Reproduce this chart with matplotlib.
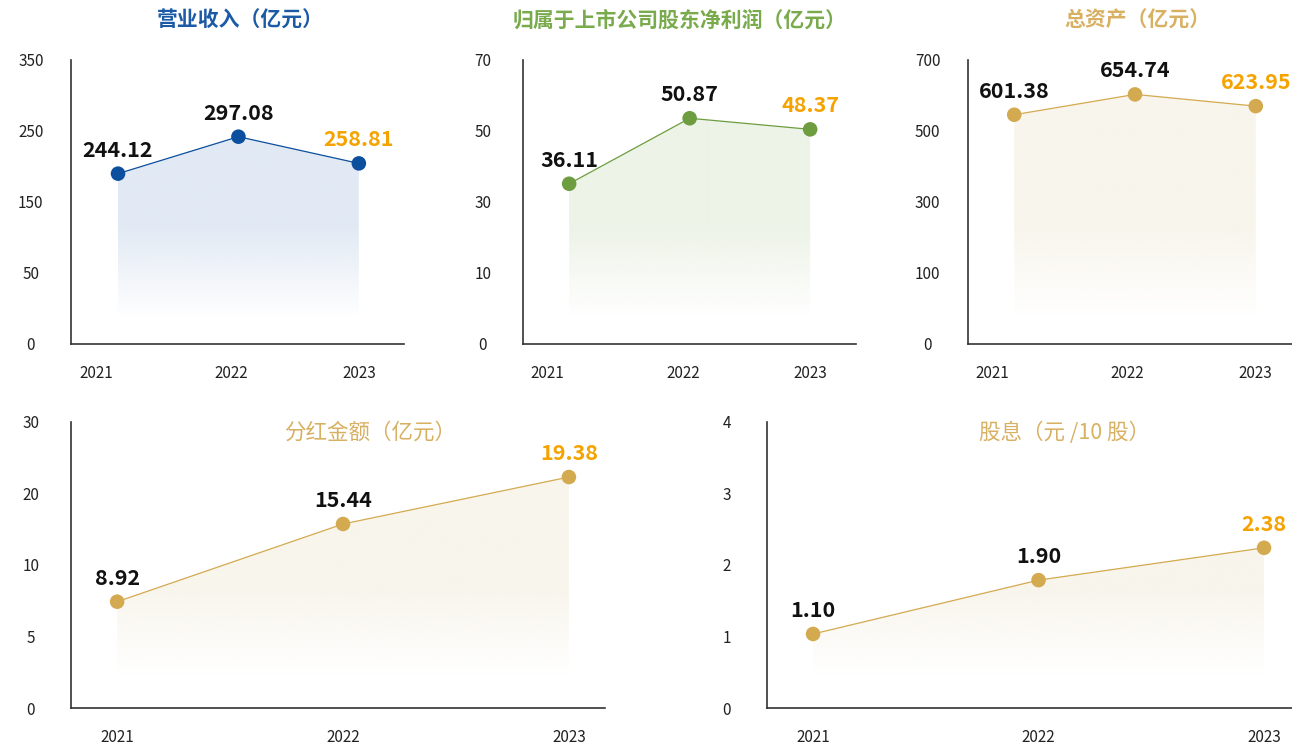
import numpy as np
import matplotlib
matplotlib.use('Agg')
import matplotlib.pyplot as plt
from matplotlib.colors import to_rgb
from matplotlib.patches import Polygon

plt.rcParams['font.family'] = ['Noto Sans CJK SC', 'DejaVu Sans']

years = ['2021', '2022', '2023']
revenue = [244.12, 297.08, 258.81]
net_profit = [36.11, 50.87, 48.37]
total_assets = [601.38, 654.74, 623.95]
dividend_total = [8.92, 15.44, 19.38]
dividend_per10 = [1.10, 1.90, 2.38]

revenue_ticks = ['0', '50', '150', '250', '350']
profit_ticks = ['0', '10', '30', '50', '70']
assets_ticks = ['0', '100', '300', '500', '700']
div_total_ticks = ['0', '5', '10', '20', '30']
div_per10_ticks = ['0', '1', '2', '3', '4']

BLUE = '#0b4f9e'
GREEN = '#6e9d3f'
GOLD = '#d4aa50'
ORANGE = '#f5a300'


def grad_fill(ax, x, y, color, ybot, yfade):
    pts = [(x[0], ybot)] + list(zip(x, y)) + [(x[-1], ybot)]
    poly = Polygon(pts, closed=True, facecolor='none', edgecolor='none')
    ax.add_patch(poly)
    ytop = max(y)
    n = 300
    v = np.linspace(ybot, ytop, n)
    a = np.clip((v - ybot) / (yfade - ybot), 0, 1)
    img = np.zeros((n, 1, 4))
    img[..., :3] = to_rgb(color)
    img[:, 0, 3] = a
    im = ax.imshow(img, extent=[x[0], x[-1], ybot, ytop], origin='lower',
                   aspect='auto', zorder=1, interpolation='bilinear')
    im.set_clip_path(poly)


panels = [
    # rect, values, ticks, ymax, xlim, xtick pos, line, fill, title, tcolor, bold, title pos, fill bottom
    ([0.055, 0.5395, 0.2577, 0.3802], revenue, revenue_ticks, 407, (-0.39, 2.375),
     [-0.18, 0.94, 2.0], BLUE, '#e1e9f4', '营业收入（亿元）', '#1c5aa6', True, (0.1858, 0.973), 0.092),
    ([0.4048, 0.5395, 0.2577, 0.3802], net_profit, profit_ticks, 64, (-0.383, 2.38),
     [-0.18, 0.95, 2.0], GREEN, '#edf3e7', '归属于上市公司股东净利润（亿元）', '#79ab4d', True, (0.526, 0.973), 0.092),
    ([0.7492, 0.5395, 0.2508, 0.3802], total_assets, assets_ticks, 745, (-0.383, 2.30),
     [-0.18, 0.94, 2.0], GOLD, '#f8f5ec', '总资产（亿元）', '#d8b062', True, (0.88, 0.973), 0.092),
    ([0.055, 0.0522, 0.4133, 0.3829], dividend_total, div_total_ticks, 24, (-0.204, 2.16),
     [0, 1, 2], GOLD, '#f8f5ec', '分红金额（亿元）', '#d8b062', False, (0.2865, 0.4203), 0.115),
    ([0.5937, 0.0522, 0.4063, 0.3829], dividend_per10, div_per10_ticks, 4.25, (-0.204, 2.124),
     [0, 1, 2], GOLD, '#f8f5ec', '股息（元 /10 股）', '#d8b062', False, (0.8243, 0.4203), 0.115),
]

fig = plt.figure(figsize=(12.92, 7.47), dpi=100)

for rect, vals, tlabels, ymax, xlim, xpos, lc, fc, title, tc, bold, tpos, fb in panels:
    ax = fig.add_axes(rect)
    x = np.arange(len(vals))
    grad_fill(ax, x, vals, fc, ymax * fb, ymax * 0.42)
    ax.plot(x, vals, color=lc, lw=0.9, zorder=3)
    ax.scatter(x, vals, s=110, color=lc, zorder=4, edgecolors='none')
    for i, v in enumerate(vals):
        ax.annotate(f'{v:.2f}', (x[i], v), xytext=(0, 17), textcoords='offset points',
                    ha='center', va='center', fontsize=15.5, fontweight='bold',
                    color=ORANGE if i == len(vals) - 1 else '#111111', zorder=5,
                    annotation_clip=False)
    ax.set_xlim(*xlim)
    ax.set_ylim(0, ymax)
    ax.set_yticks(np.linspace(0, ymax, 5))
    ax.set_yticklabels(tlabels)
    ax.set_xticks(xpos)
    ax.set_xticklabels(years)
    ax.tick_params(axis='y', length=0, pad=29, labelsize=11, labelcolor='#222222')
    ax.tick_params(axis='x', length=0, pad=15, labelsize=11, labelcolor='#222222')
    for lab in ax.get_yticklabels():
        lab.set_horizontalalignment('center')
    for s in ['top', 'right']:
        ax.spines[s].set_visible(False)
    for s in ['left', 'bottom']:
        ax.spines[s].set_color('#333333')
        ax.spines[s].set_linewidth(1.2)
    ax.set_facecolor('none')
    fig.text(tpos[0], tpos[1], title, ha='center', va='center', color=tc,
             fontsize=15 if bold else 15.5, fontweight='bold' if bold else 'normal')

fig.savefig('out.png', dpi=100, facecolor='white')
